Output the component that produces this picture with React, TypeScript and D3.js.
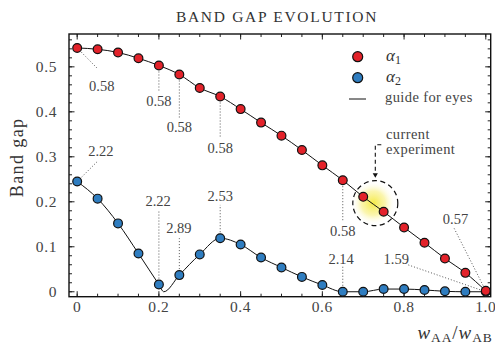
import React from 'react';
import * as d3 from 'd3';

// w_AA / w_AB
const xs = [0, 0.05, 0.1, 0.15, 0.2, 0.25, 0.3, 0.35, 0.4, 0.45, 0.5, 0.55, 0.6, 0.65, 0.7, 0.75, 0.8, 0.85, 0.9, 0.95, 1.0];
const alpha1 = [0.542, 0.539, 0.532, 0.519, 0.503, 0.483, 0.453, 0.434, 0.406, 0.376, 0.347, 0.315, 0.281, 0.248, 0.211, 0.178, 0.143, 0.109, 0.074, 0.042, 0.002];
const alpha2 = [0.245, 0.207, 0.152, 0.085, 0.016, 0.037, 0.083, 0.119, 0.105, 0.076, 0.054, 0.033, 0.015, 0.0, 0.0, 0.006, 0.006, 0.004, 0.001, 0.0, 0.0];
// extra vertex of the alpha2 guide where the gap closes
const alpha2Closing = {x: 0.212, y: 0};

const xMajor = [0, 0.2, 0.4, 0.6, 0.8, 1.0];
const xMajorLabels = ['0', '0.2', '0.4', '0.6', '0.8', '1.0'];
const yMajor = [0, 0.1, 0.2, 0.3, 0.4, 0.5];
const yMajorLabels = ['0', '0.1', '0.2', '0.3', '0.4', '0.5'];

// annotations: series, point index, label, leader end, label centre (data coords)
const notes = [
    {s: 1, i: 0, t: '0.58', ex: 0.051, ey: 0.495, tx: 0.06, ty: 0.457},
    {s: 1, i: 4, t: '0.58', ex: 0.2, ey: 0.444, tx: 0.2, ty: 0.424},
    {s: 1, i: 5, t: '0.58', ex: 0.25, ey: 0.383, tx: 0.25, ty: 0.366},
    {s: 1, i: 7, t: '0.58', ex: 0.35, ey: 0.342, tx: 0.35, ty: 0.32},
    {s: 1, i: 13, t: '0.58', ex: 0.65, ey: 0.156, tx: 0.65, ty: 0.135},
    {s: 1, i: 20, t: '0.57', ex: 0.922, ey: 0.142, tx: 0.926, ty: 0.163},
    {s: 2, i: 0, t: '2.22', ex: 0.052, ey: 0.292, tx: 0.058, ty: 0.313},
    {s: 2, i: 4, t: '2.22', ex: 0.2, ey: 0.18, tx: 0.198, ty: 0.202},
    {s: 2, i: 5, t: '2.89', ex: 0.25, ey: 0.119, tx: 0.249, ty: 0.141},
    {s: 2, i: 7, t: '2.53', ex: 0.35, ey: 0.193, tx: 0.35, ty: 0.214},
    {s: 2, i: 13, t: '2.14', ex: 0.65, ey: 0.056, tx: 0.646, ty: 0.073},
    {s: 2, i: 20, t: '1.59', ex: 0.806, ey: 0.061, tx: 0.781, ty: 0.073},
];

// current experiment marker
const expt = {x: 0.7296, y: 0.197};

const RED = '#e3222a';
const BLUE = '#2f7dc0';
const GREY = '#444';
const FONT = '"Liberation Serif", "Times New Roman", serif';

const App = () => {
    const width = 495;
    const height = 347;
    const margins = {top: 34, right: 4.3, bottom: 50.3, left: 69};

    const xScale = d3.scaleLinear().domain([-0.02, 1.012]).range([margins.left, width - margins.right]);
    const yScale = d3.scaleLinear().domain([-0.011, 0.573]).range([height - margins.bottom, margins.top]);

    const x0 = margins.left, x1 = width - margins.right;
    const y0 = height - margins.bottom, y1 = margins.top;

    const red = xs.map((x, i) => ({x, y: alpha1[i]}));
    const blue = xs.map((x, i) => ({x, y: alpha2[i]}));
    const blueGuide = [...blue.slice(0, 5), alpha2Closing, ...blue.slice(5)];

    const line = d3.line<{x: number, y: number}>()
        .x(d => xScale(d.x)).y(d => yScale(d.y))
        .curve(d3.curveMonotoneX);

    const xMinor = d3.range(0, 1.0001, 0.05);
    const yMinor = d3.range(0, 0.5601, 0.02);

    const r = 4.4;
    const cx = xScale(expt.x), cy = yScale(expt.y);
    const arrowTop = 144.7, arrowTip = cy - 25.5;

    return (
        <svg width={width} height={height} style={{position: 'absolute', left: 0, top: 0}} fontFamily={FONT}>
            <defs>
                <radialGradient id="glow">
                    <stop offset="0%" stopColor="#f4e93c" stopOpacity={0.95}/>
                    <stop offset="55%" stopColor="#f8ef7a" stopOpacity={0.6}/>
                    <stop offset="100%" stopColor="#ffffff" stopOpacity={0}/>
                </radialGradient>
            </defs>

            <text x={277} y={22} textAnchor="middle" fontSize={15.5} letterSpacing={1.7} fill="#333">BAND GAP EVOLUTION</text>

            {/* ticks, inward on all four sides */}
            {xMinor.map(t => (
                <g key={'xm' + t}>
                    <line x1={xScale(t)} x2={xScale(t)} y1={y0} y2={y0 - 3} stroke="#222"/>
                    <line x1={xScale(t)} x2={xScale(t)} y1={y1} y2={y1 + 3} stroke="#222"/>
                </g>
            ))}
            {xMajor.map((t, i) => (
                <g key={'xM' + t}>
                    <line x1={xScale(t)} x2={xScale(t)} y1={y0} y2={y0 - 5.5} stroke="#222"/>
                    <line x1={xScale(t)} x2={xScale(t)} y1={y1} y2={y1 + 5.5} stroke="#222"/>
                    <text x={xScale(t)} y={y0 + 15} textAnchor="middle" fontSize={15.5} letterSpacing={0.6} fill={GREY}>{xMajorLabels[i]}</text>
                </g>
            ))}
            {yMinor.map(t => (
                <g key={'ym' + t}>
                    <line x1={x0} x2={x0 + 3} y1={yScale(t)} y2={yScale(t)} stroke="#222"/>
                    <line x1={x1} x2={x1 - 3} y1={yScale(t)} y2={yScale(t)} stroke="#222"/>
                </g>
            ))}
            {yMajor.map((t, i) => (
                <g key={'yM' + t}>
                    <line x1={x0} x2={x0 + 5.5} y1={yScale(t)} y2={yScale(t)} stroke="#222"/>
                    <line x1={x1} x2={x1 - 5.5} y1={yScale(t)} y2={yScale(t)} stroke="#222"/>
                    <text x={x0 - 12} y={yScale(t)} dy="0.35em" textAnchor="end" fontSize={15.5} letterSpacing={0.6} fill={GREY}>{yMajorLabels[i]}</text>
                </g>
            ))}
            <rect x={x0} y={y1} width={x1 - x0} height={y0 - y1} fill="none" stroke="#111" strokeWidth={1.4}/>

            <text transform={`translate(23, ${(y0 + y1) / 2 - 8}) rotate(-90)`} textAnchor="middle" fontSize={18} letterSpacing={1.4} fill="#333">Band gap</text>
            <text x={x1 + 2} y={339} textAnchor="end" fontSize={19} letterSpacing={0.9} fill="#333">
                <tspan fontStyle="italic">w</tspan><tspan fontSize={13.5} dy={3}>AA</tspan>
                <tspan dy={-3}>/</tspan><tspan fontStyle="italic">w</tspan><tspan fontSize={13.5} dy={3}>AB</tspan>
            </text>

            {/* current experiment */}
            <circle cx={cx - 2} cy={cy} r={22} fill="url(#glow)"/>

            {/* leaders */}
            {notes.map((n, k) => {
                const py = n.s === 1 ? alpha1[n.i] : alpha2[n.i];
                return (
                    <g key={'n' + k}>
                        <line x1={xScale(xs[n.i])} y1={yScale(py)} x2={xScale(n.ex)} y2={yScale(n.ey)}
                              stroke="#555" strokeWidth={1} strokeDasharray="1,2"/>
                        <text x={xScale(n.tx)} y={yScale(n.ty)} dy="0.35em" textAnchor="middle" fontSize={14.5} fill={GREY}>{n.t}</text>
                    </g>
                );
            })}

            <path d={line(blueGuide) || ''} fill="none" stroke="#111" strokeWidth={1}/>
            <path d={line(red) || ''} fill="none" stroke="#111" strokeWidth={1}/>
            {blue.map((d, i) => (
                <circle key={'b' + i} cx={xScale(d.x)} cy={yScale(d.y)} r={r} fill={BLUE} stroke="#111" strokeWidth={1.2}/>
            ))}
            {red.map((d, i) => (
                <circle key={'r' + i} cx={xScale(d.x)} cy={yScale(d.y)} r={r} fill={RED} stroke="#111" strokeWidth={1.2}/>
            ))}

            <circle cx={cx} cy={cy} r={22.5} fill="none" stroke="#111" strokeWidth={1.2} strokeDasharray="5,3.5"/>
            <path d={`M${cx + 6},${arrowTop} H${cx} V${arrowTip - 4}`} fill="none" stroke="#111" strokeWidth={1.1}
                  strokeDasharray="4,3"/>
            <path d={`M${cx - 2.6},${arrowTip - 4.5} L${cx + 2.6},${arrowTip - 4.5} L${cx},${arrowTip} Z`} fill="#111"/>
            <text x={386} y={139} fontSize={14.5} letterSpacing={0.4} fill={GREY}>current</text>
            <text x={386} y={153.5} fontSize={14.5} letterSpacing={0.4} fill={GREY}>experiment</text>

            {/* legend */}
            <circle cx={357.7} cy={56.7} r={5} fill={RED} stroke="#111" strokeWidth={1.2}/>
            <circle cx={357.7} cy={77.7} r={5} fill={BLUE} stroke="#111" strokeWidth={1.2}/>
            <line x1={349} x2={366} y1={99} y2={99} stroke="#111" strokeWidth={1}/>
            <text x={386} y={61} fontSize={17} fill="#333"><tspan fontStyle="italic">α</tspan><tspan fontSize={12} dy={3}>1</tspan></text>
            <text x={386} y={82} fontSize={17} fill="#333"><tspan fontStyle="italic">α</tspan><tspan fontSize={12} dy={3}>2</tspan></text>
            <text x={385} y={102} fontSize={14.5} letterSpacing={0.4} fill={GREY}>guide for eyes</text>
        </svg>
    );
};

export default App;
